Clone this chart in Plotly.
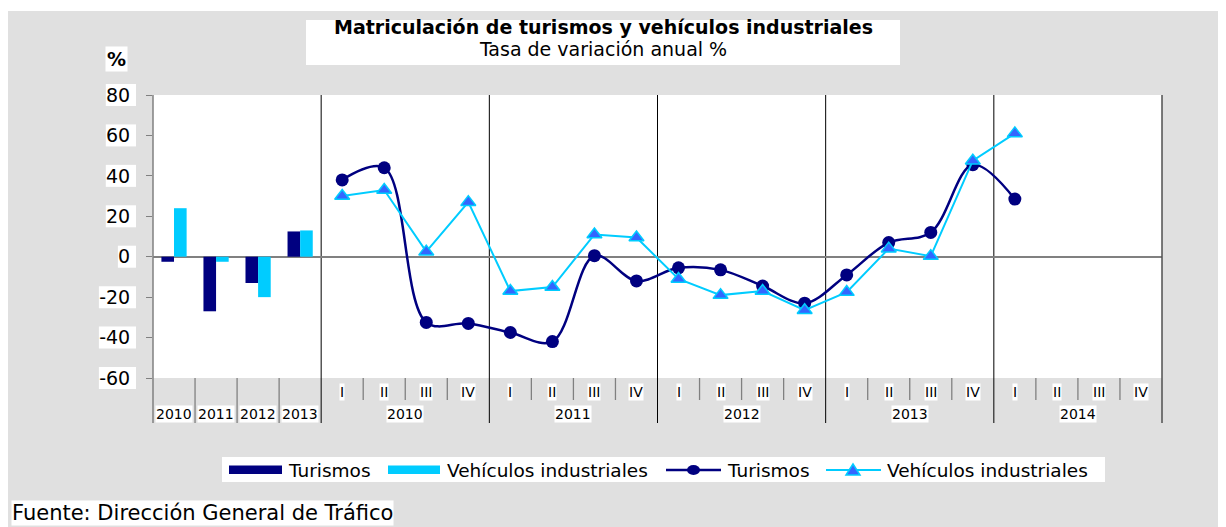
import plotly.graph_objects as go

# ---------------- data ----------------
annual_years = ["2010", "2011", "2012", "2013"]
annual_turismos = [-2.5, -27, -13, 12.5]
annual_vehiculos = [24, -2.5, -20, 13]

quarter_years = ["2010", "2011", "2012", "2013", "2014"]
quarter_names = ["I", "II", "III", "IV"]
q_turismos = [38, 44, -32.5, -33, -37.5, -42, 0.5, -12, -5.5, -6.5, -14.5, -23, -9, 7, 12, 45.5, 28.5]
q_vehiculos = [30, 33, 2.5, 27, -17, -15, 11, 9.5, -11, -19, -17, -26.5, -17.5, 4, 0.3, 47.5, 61]

y_ticks = [-60, -40, -20, 0, 20, 40, 60, 80]
y_ticktext = ["-60", "-40", "-20", "0", "20", "40", "60", "80"]

series_names = ["Turismos", "Vehículos industriales"]
title = "Matriculación de turismos y vehículos industriales"
subtitle = "Tasa de variación anual %"
source = "Fuente: Dirección General de Tráfico"

# ---------------- styles ----------------
NAVY = "#000080"
CYAN = "#00CCFF"
TRI_FILL = "#3366FF"
GREY_BG = "#e0e0e0"
AXIS_GREY = "#808080"
FONT = "DejaVu Sans"

# page is 1226x527; the html body adds an 8px margin, so the figure is drawn smaller
PAGE_W, PAGE_H, OFF = 1226, 527, 8
W, H = PAGE_W - OFF, PAGE_H - OFF
PLOT_L, PLOT_R, PLOT_T, PLOT_B = 153, 1162, 95, 378      # plot area in page pixels
ML, MR, MT, MB = PLOT_L - OFF, PAGE_W - PLOT_R, PLOT_T - OFF, PAGE_H - PLOT_B
PW, PH = W - ML - MR, H - MT - MB


def px(x):
    return (x - PLOT_L) / PW


def py(y):
    return (PLOT_B - y) / PH


n_annual = len(annual_years)
n_cat = n_annual + len(quarter_years) * len(quarter_names)
x_annual = [i + 0.5 for i in range(n_annual)]
x_quarter = [n_annual + i + 0.5 for i in range(len(q_turismos))]

fig = go.Figure()
fig.add_trace(go.Bar(x=x_annual, y=annual_turismos, name=series_names[0],
                     marker=dict(color=NAVY, line=dict(width=0))))
fig.add_trace(go.Bar(x=x_annual, y=annual_vehiculos, name=series_names[1],
                     marker=dict(color=CYAN, line=dict(width=0))))
fig.add_trace(go.Scatter(x=x_quarter, y=q_turismos, name=series_names[0], mode="lines+markers",
                         line=dict(color=NAVY, width=2.5, shape="spline", smoothing=1),
                         marker=dict(symbol="circle", size=13, color=NAVY)))
fig.add_trace(go.Scatter(x=x_quarter, y=q_vehiculos, name=series_names[1], mode="lines+markers",
                         line=dict(color=CYAN, width=2),
                         marker=dict(symbol="triangle-up", size=13, color=TRI_FILL,
                                     line=dict(color=CYAN, width=1.5))))

shapes = []
annotations = []

# white outer strip above the grey panel
shapes.append(dict(type="rect", xref="paper", yref="paper", x0=px(0), x1=px(PAGE_W + 10), y0=py(11), y1=py(-10),
                   fillcolor="white", line=dict(width=0), layer="below"))

# title box
shapes.append(dict(type="rect", xref="paper", yref="paper", x0=px(306), x1=px(900), y0=py(20), y1=py(65),
                   fillcolor="white", line=dict(width=0), layer="below"))
annotations.append(dict(text=("<span style='font-size:19px'><b>" + title + "</b></span><br>"
                              "<span style='font-size:19px'>" + subtitle + "</span>"),
                        xref="paper", yref="paper",
                        x=px(603), y=py(38), xanchor="center", yanchor="middle", showarrow=False,
                        align="center", font=dict(family=FONT, size=17, color="black")))

# % label
annotations.append(dict(text="<b>%</b>", xref="paper", yref="paper", x=px(116), y=py(59),
                        xanchor="center", yanchor="middle", showarrow=False, bgcolor="white", borderpad=1,
                        font=dict(family=FONT, size=19, color="black")))

# white boxes behind y tick labels
LABEL_RIGHT = PLOT_L - 6 - 14
for v, t in zip(y_ticks, y_ticktext):
    w = sum(12.1 if ch.isdigit() else 6.9 for ch in t)
    yc = (v - y_ticks[0]) / (y_ticks[-1] - y_ticks[0])
    shapes.append(dict(type="rect", xref="paper", yref="paper",
                       x0=px(LABEL_RIGHT - w - 3), x1=px(LABEL_RIGHT + 3),
                       y0=yc - 11 / PH, y1=yc + 11 / PH,
                       fillcolor="white", line=dict(width=0), layer="below"))

# category separators
y_long = py(423)
y_short = py(400)
for k in range(0, n_cat + 1):
    xk = k / n_cat
    if k == 0:
        shapes.append(dict(type="line", xref="paper", yref="paper", x0=xk, x1=xk, y0=y_long, y1=1,
                           line=dict(color=AXIS_GREY, width=1.5), layer="above"))
    elif k == n_cat:
        shapes.append(dict(type="line", xref="paper", yref="paper", x0=xk, x1=xk, y0=y_long, y1=1,
                           line=dict(color="#505050", width=1.5), layer="above"))
    elif k < n_annual:
        shapes.append(dict(type="line", xref="paper", yref="paper", x0=xk, x1=xk, y0=y_long, y1=0,
                           line=dict(color=AXIS_GREY, width=1.3), layer="above"))
    elif (k - n_annual) % len(quarter_names) == 0:
        shapes.append(dict(type="line", xref="paper", yref="paper", x0=xk, x1=xk, y0=y_long, y1=1,
                           line=dict(color="black", width=1), layer="below"))
    else:
        shapes.append(dict(type="line", xref="paper", yref="paper", x0=xk, x1=xk, y0=y_short, y1=0,
                           line=dict(color=AXIS_GREY, width=1.3), layer="above"))

# category labels
lab_font = dict(family=FONT, size=14, color="black")
for xa, lab in zip(x_annual, annual_years):
    annotations.append(dict(text=lab, xref="x", yref="paper", x=xa, y=py(414), showarrow=False,
                            xanchor="center", yanchor="middle", bgcolor="white", borderpad=0, font=lab_font))
for yi, yr in enumerate(quarter_years):
    base = n_annual + yi * len(quarter_names)
    for qi, q in enumerate(quarter_names):
        annotations.append(dict(text=q, xref="x", yref="paper", x=base + qi + 0.5, y=py(392), showarrow=False,
                                xanchor="center", yanchor="middle", bgcolor="white", borderpad=0, font=lab_font))
    annotations.append(dict(text=yr, xref="x", yref="paper", x=base + len(quarter_names) / 2, y=py(414),
                            showarrow=False, xanchor="center", yanchor="middle", bgcolor="white", borderpad=0,
                            font=lab_font))

# custom legend
LY = 470
shapes.append(dict(type="rect", xref="paper", yref="paper", x0=px(222), x1=px(1105), y0=py(457), y1=py(482),
                   fillcolor="white", line=dict(width=0), layer="above"))
shapes.append(dict(type="rect", xref="paper", yref="paper", x0=px(229), x1=px(282), y0=py(465.5), y1=py(474),
                   fillcolor=NAVY, line=dict(width=0), layer="above"))
shapes.append(dict(type="rect", xref="paper", yref="paper", x0=px(388), x1=px(440), y0=py(465.5), y1=py(474),
                   fillcolor=CYAN, line=dict(width=0), layer="above"))
shapes.append(dict(type="line", xref="paper", yref="paper", x0=px(666), x1=px(721), y0=py(LY), y1=py(LY),
                   line=dict(color=NAVY, width=2.5), layer="above"))
shapes.append(dict(type="circle", xref="paper", yref="paper", x0=px(687), x1=px(700), y0=py(LY + 5), y1=py(LY - 5),
                   fillcolor=NAVY, line=dict(color=NAVY, width=0), layer="above"))
shapes.append(dict(type="line", xref="paper", yref="paper", x0=px(826), x1=px(881), y0=py(LY), y1=py(LY),
                   line=dict(color=CYAN, width=2), layer="above"))
tri = "M {a},{b} L {c},{b} L {d},{e} Z".format(a=px(846), b=py(LY + 5), c=px(860), d=px(853), e=py(LY - 6))
shapes.append(dict(type="path", xref="paper", yref="paper", path=tri,
                   fillcolor=TRI_FILL, line=dict(color=CYAN, width=1.5), layer="above"))
leg_font = dict(family=FONT, size=18.5, color="black")
for xt, name in zip([286, 445, 725, 885], series_names + series_names):
    annotations.append(dict(text=name, xref="paper", yref="paper", x=px(xt), y=py(LY), xanchor="left",
                            yanchor="middle", showarrow=False, font=leg_font))

# source
annotations.append(dict(text=source, xref="paper", yref="paper", x=px(11), y=py(526), xanchor="left",
                        yanchor="bottom", showarrow=False, bgcolor="white", borderpad=0,
                        font=dict(family=FONT, size=21, color="black")))

fig.update_layout(
    width=W, height=H,
    margin=dict(l=ML, r=MR, t=MT, b=MB, pad=0),
    paper_bgcolor=GREY_BG, plot_bgcolor="white",
    barmode="group", bargap=0.4, bargroupgap=0,
    showlegend=False,
    shapes=shapes, annotations=annotations,
    xaxis=dict(range=[0, n_cat], showgrid=False, zeroline=False, showticklabels=False, ticks="",
               showline=False, fixedrange=True),
    yaxis=dict(range=[y_ticks[0], y_ticks[-1]], tickvals=y_ticks, ticktext=y_ticktext, ticks="outside",
               ticklen=6, tickwidth=1.3, tickcolor=AXIS_GREY, showgrid=False, zeroline=True,
               zerolinecolor=AXIS_GREY, zerolinewidth=1.5, showline=False, ticklabelstandoff=12,
               tickfont=dict(family=FONT, size=19, color="black"), fixedrange=True),
)

fig.write_html("out.html")
